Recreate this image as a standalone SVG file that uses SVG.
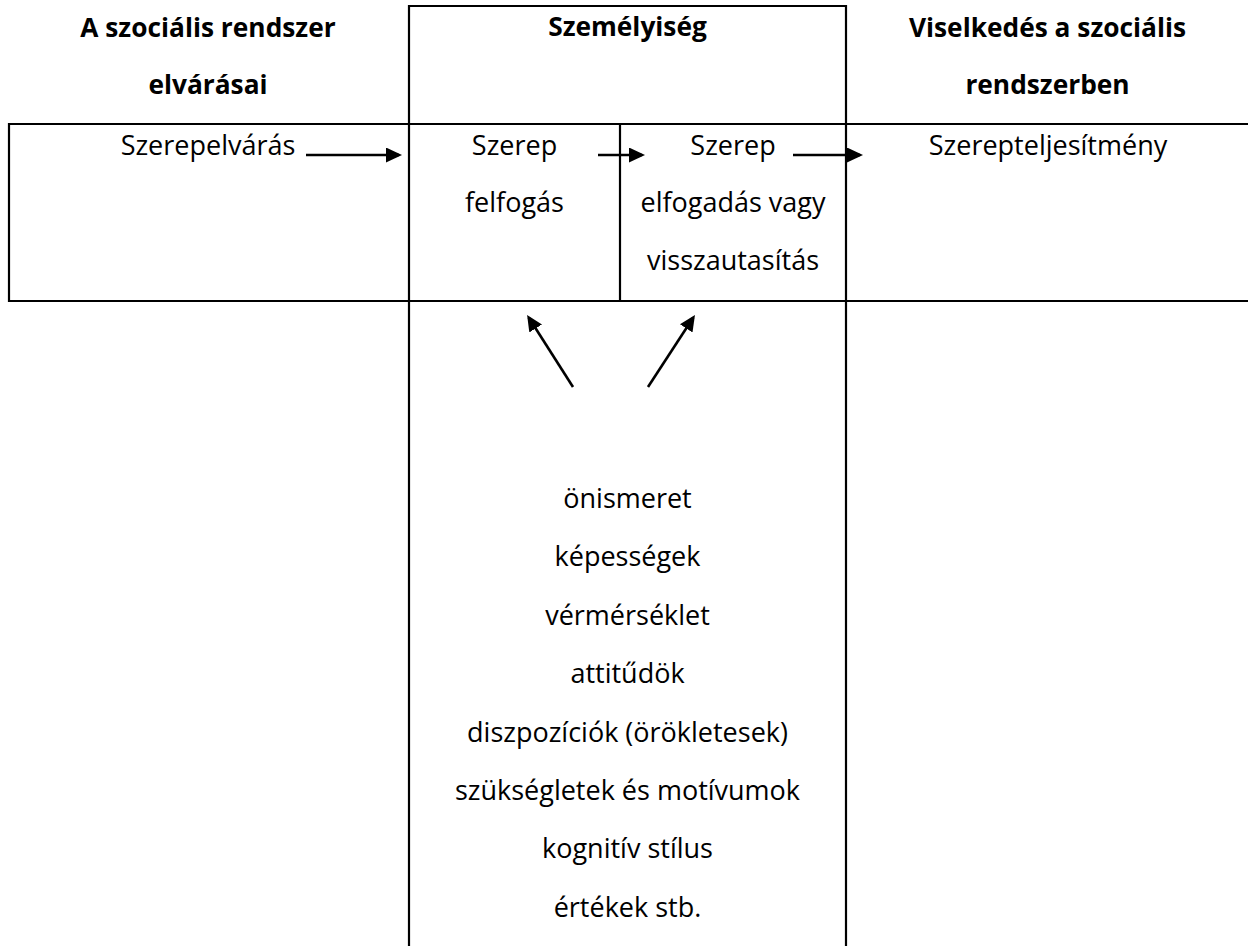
<svg xmlns="http://www.w3.org/2000/svg" width="1248" height="946" viewBox="0 0 1248 946">
  <style>
    .grid { stroke: #000; stroke-width: 2.2; fill: none; }
    .txt { font-family: "Open Sans", "Noto Sans", sans-serif; font-size: 27px; fill: #000; text-anchor: middle; }
    .hdr { font-family: "Open Sans", "Noto Sans", sans-serif; font-size: 26.3px; font-weight: bold; fill: #000; text-anchor: middle; }
    .conn { stroke: #000; stroke-width: 2.6; fill: none; marker-end: url(#head); }
  </style>
  <defs>
    <marker id="head" markerUnits="userSpaceOnUse" markerWidth="16" markerHeight="15" refX="13" refY="7.5" orient="auto">
      <path d="M0,0 L16,7.5 L0,15 Z" fill="#000"/>
    </marker>
  </defs>
  <rect width="1248" height="946" fill="#fff"/>

  <!-- table frame -->
  <g id="frame" class="grid">
    <line x1="409" y1="6" x2="846" y2="6"/>
    <line x1="409" y1="5" x2="409" y2="946"/>
    <line x1="846" y1="5" x2="846" y2="946"/>
    <line x1="8" y1="124" x2="1248" y2="124"/>
    <line x1="8" y1="301" x2="1248" y2="301"/>
    <line x1="9" y1="123" x2="9" y2="302"/>
    <line x1="620" y1="124" x2="620" y2="301"/>
  </g>

  <!-- column headings -->
  <g id="head-expectations">
    <text class="hdr" x="208" y="36.5">A szociális rendszer</text>
    <text class="hdr" x="208" y="94">elvárásai</text>
  </g>
  <g id="head-personality">
    <text class="hdr" x="627.5" y="36">Személyiség</text>
  </g>
  <g id="head-behaviour">
    <text class="hdr" x="1047.5" y="36.5">Viselkedés a szociális</text>
    <text class="hdr" x="1047.5" y="94">rendszerben</text>
  </g>

  <!-- role row -->
  <g id="role-expectation">
    <text class="txt" x="208" y="155">Szerepelvárás</text>
  </g>
  <g id="role-perception">
    <text class="txt" x="514.5" y="155">Szerep</text>
    <text class="txt" x="514.5" y="212">felfogás</text>
  </g>
  <g id="role-acceptance">
    <text class="txt" x="733" y="155">Szerep</text>
    <text class="txt" x="733" y="212">elfogadás vagy</text>
    <text class="txt" x="733" y="270">visszautasítás</text>
  </g>
  <g id="role-performance">
    <text class="txt" x="1048" y="155">Szerepteljesítmény</text>
  </g>

  <!-- personality factors -->
  <g id="factors">
    <text class="txt" x="627.5" y="508">önismeret</text>
    <text class="txt" x="627.5" y="566.4">képességek</text>
    <text class="txt" x="627.5" y="624.8">vérmérséklet</text>
    <text class="txt" x="627.5" y="683.2">attitűdök</text>
    <text class="txt" x="627.5" y="741.6">diszpozíciók (örökletesek)</text>
    <text class="txt" x="627.5" y="800">szükségletek és motívumok</text>
    <text class="txt" x="627.5" y="858.4">kognitív stílus</text>
    <text class="txt" x="627.5" y="916.8">értékek stb.</text>
  </g>

  <!-- arrows -->
  <g id="connectors">
    <line class="conn" x1="306" y1="155" x2="399" y2="155"/>
    <line class="conn" x1="598" y1="155" x2="642" y2="155"/>
    <line class="conn" x1="793" y1="155" x2="860" y2="155"/>
    <line class="conn" x1="573" y1="387" x2="528.7" y2="317.5"/>
    <line class="conn" x1="648" y1="387" x2="693.3" y2="317.5"/>
  </g>
</svg>
